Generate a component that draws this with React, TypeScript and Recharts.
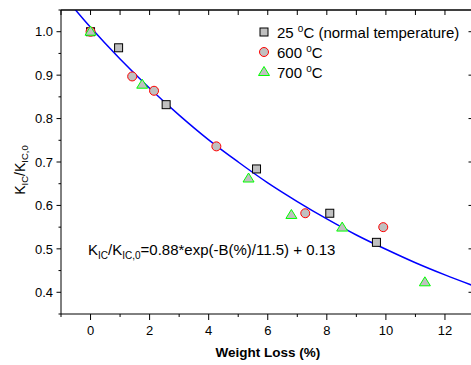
import React from "react";
import { ComposedChart, Line, Scatter, XAxis, YAxis, ReferenceLine } from "recharts";

// measured points
const roomX = [0, 0.95, 2.56, 5.62, 8.1, 9.68];
const roomY = [1.0, 0.963, 0.832, 0.684, 0.582, 0.515];
const t600X = [0, 1.41, 2.15, 4.26, 7.27, 9.91];
const t600Y = [1.0, 0.897, 0.864, 0.736, 0.582, 0.55];
const t700X = [0, 1.75, 5.35, 6.8, 8.52, 11.32];
const t700Y = [1.0, 0.878, 0.662, 0.578, 0.549, 0.423];

// fitted curve
const fitX = [-1, 0, 1, 2, 3, 4, 5, 6, 7, 8, 9, 10, 11, 12, 13];
const fitY = [1.09, 1.01, 0.937, 0.87, 0.808, 0.751, 0.7, 0.652, 0.609, 0.569, 0.532, 0.499, 0.468, 0.44, 0.414];

const xTicks = [-1, 0, 1, 2, 3, 4, 5, 6, 7, 8, 9, 10, 11, 12, 13];
const xLabels = [0, 2, 4, 6, 8, 10, 12];
const yTicks = [0.35, 0.4, 0.45, 0.5, 0.55, 0.6, 0.65, 0.7, 0.75, 0.8, 0.85, 0.9, 0.95, 1.0, 1.05];
const yLabels = ["0.4", "0.5", "0.6", "0.7", "0.8", "0.9", "1.0"];

const toPoints = (xs: number[], ys: number[]) => xs.map((x, i) => ({ x, y: ys[i] }));

const FONT = "'Liberation Sans', Arial, sans-serif";
const GREY = "#c0c0c0";

const CHART_W = 480;
const CHART_H = 365;
const MARGIN = { top: 10, right: 5.5, left: 0, bottom: 0 };
const Y_AXIS_W = 61;
const X_AXIS_H = 51;
// plot box, used to mirror the ticks onto the top and right frame
const PLOT_W = CHART_W - MARGIN.right - Y_AXIS_W;
const PLOT_H = CHART_H - MARGIN.top - X_AXIS_H;
const frameX = (v: number) => Y_AXIS_W + ((v + 1) / 14) * PLOT_W;
const frameY = (v: number) => MARGIN.top + ((1.05 - v) / 0.7) * PLOT_H;

const isMajorY = (v: number) => yLabels.includes(v.toFixed(1)) && Math.abs(v * 10 - Math.round(v * 10)) < 1e-6;

const Square = ({ cx, cy }: any) => (
  <rect x={cx - 4} y={cy - 4} width={8} height={8} fill={GREY} stroke="#000" strokeWidth={1} />
);
const Circle = ({ cx, cy }: any) => (
  <circle cx={cx} cy={cy} r={4.5} fill={GREY} stroke="#ff0000" strokeWidth={1} />
);
const Triangle = ({ cx, cy }: any) => (
  <path d={`M${cx},${cy - 5.5}L${cx + 5.5},${cy + 3.5}L${cx - 5.5},${cy + 3.5}Z`} fill={GREY} stroke="#00ff00" strokeWidth={1} />
);

const BottomTick = ({ x, y, payload }: any) => {
  const major = xLabels.includes(payload.value);
  return (
    <g>
      <line x1={x} x2={x} y1={y} y2={y + (major ? 6 : 3)} stroke="#000" />
      {major && (
        <text x={x} y={y + 21} textAnchor="middle" fontSize={13} fontFamily={FONT} fill="#000">
          {payload.value}
        </text>
      )}
    </g>
  );
};

const LeftTick = ({ x, y, payload }: any) => {
  const major = isMajorY(payload.value);
  return (
    <g>
      <line x1={x} x2={x - (major ? 4.5 : 2.5)} y1={y} y2={y} stroke="#000" />
      {major && (
        <text x={x - 8} y={y} dy="0.36em" textAnchor="end" fontSize={13} fontFamily={FONT} fill="#000">
          {payload.value.toFixed(1)}
        </text>
      )}
    </g>
  );
};

const legendItems = [
  { label: "25 ", rest: " (normal temperature)", Shape: Square },
  { label: "600 ", rest: "", Shape: Circle },
  { label: "700 ", rest: "", Shape: Triangle },
];

const LegendBox = () => (
  <div style={{ position: "absolute", left: 257, top: 22, fontFamily: FONT, fontSize: 15, color: "#000", whiteSpace: "nowrap" }}>
    {legendItems.map(({ label, rest, Shape }) => (
      <div key={label} style={{ display: "flex", alignItems: "center", height: 20 }}>
        <svg width={14} height={14} style={{ marginRight: 6 }}>
          <Shape cx={7} cy={7} />
        </svg>
        <span>
          {label}
          <sup style={{ fontSize: 10 }}>o</sup>C{rest}
        </span>
      </div>
    ))}
  </div>
);

export default function App() {
  return (
    <div style={{ position: "fixed", left: 0, top: 0, width: 471, height: 365, overflow: "hidden", background: "#fff" }}>
      <ComposedChart width={CHART_W} height={CHART_H} margin={MARGIN}>
        <XAxis
          dataKey="x"
          type="number"
          domain={[-1, 13]}
          allowDataOverflow
          ticks={xTicks}
          interval={0}
          height={X_AXIS_H}
          tickSize={0}
          tickMargin={0}
          tickLine={false}
          tick={<BottomTick />}
          axisLine={{ stroke: "#000" }}
        />
        <YAxis
          dataKey="y"
          type="number"
          domain={[0.35, 1.05]}
          allowDataOverflow
          ticks={yTicks}
          interval={0}
          width={Y_AXIS_W}
          tickSize={0}
          tickMargin={0}
          tickLine={false}
          tick={<LeftTick />}
          axisLine={{ stroke: "#000" }}
        />
        <ReferenceLine y={1.05} stroke="#000" ifOverflow="visible" />
        <ReferenceLine x={13} stroke="#000" ifOverflow="visible" />
        <Line
          data={toPoints(fitX, fitY)}
          dataKey="y"
          type="monotone"
          stroke="#0000ff"
          strokeWidth={1.5}
          dot={false}
          activeDot={false}
          isAnimationActive={false}
          legendType="none"
        />
        <Scatter name="25" data={toPoints(roomX, roomY)} shape={<Square />} isAnimationActive={false} />
        <Scatter name="600" data={toPoints(t600X, t600Y)} shape={<Circle />} isAnimationActive={false} />
        <Scatter name="700" data={toPoints(t700X, t700Y)} shape={<Triangle />} isAnimationActive={false} />
      </ComposedChart>
      <LegendBox />
      <svg width={471} height={365} style={{ position: "absolute", left: 0, top: 0, pointerEvents: "none" }}>
        {/* top / right frame with inward ticks */}
        <line x1={Y_AXIS_W} x2={Y_AXIS_W + PLOT_W} y1={MARGIN.top} y2={MARGIN.top} stroke="#000" />
        <line x1={Y_AXIS_W + PLOT_W} x2={Y_AXIS_W + PLOT_W} y1={MARGIN.top} y2={MARGIN.top + PLOT_H} stroke="#000" />
        {xTicks.map((v) => (
          <line key={`t${v}`} x1={frameX(v)} x2={frameX(v)} y1={MARGIN.top} y2={MARGIN.top + 5} stroke="#000" />
        ))}
        {yTicks.map((v) => (
          <line
            key={`r${v}`}
            x1={Y_AXIS_W + PLOT_W}
            x2={Y_AXIS_W + PLOT_W - (isMajorY(v) ? 6 : 3)}
            y1={frameY(v)}
            y2={frameY(v)}
            stroke="#000"
          />
        ))}
        <text transform="translate(25,170) rotate(-90)" textAnchor="middle" fontSize={14} fontFamily={FONT}>
          <tspan>K</tspan>
          <tspan fontSize={9.5} dy={3}>IC</tspan>
          <tspan dy={-3}>/K</tspan>
          <tspan fontSize={9.5} dy={3}>IC,0</tspan>
        </text>
        <text x={88} y={255} fontSize={15} fontFamily={FONT}>
          <tspan>K</tspan>
          <tspan fontSize={10} dy={4}>IC</tspan>
          <tspan dy={-4}>/K</tspan>
          <tspan fontSize={10} dy={4}>IC,0</tspan>
          <tspan dy={-4}>=0.88*exp(-B(%)/11.5) + 0.13</tspan>
        </text>
        <text x={268} y={357} textAnchor="middle" fontSize={13.5} fontWeight="bold" fontFamily={FONT}>
          Weight Loss (%)
        </text>
      </svg>
    </div>
  );
}
